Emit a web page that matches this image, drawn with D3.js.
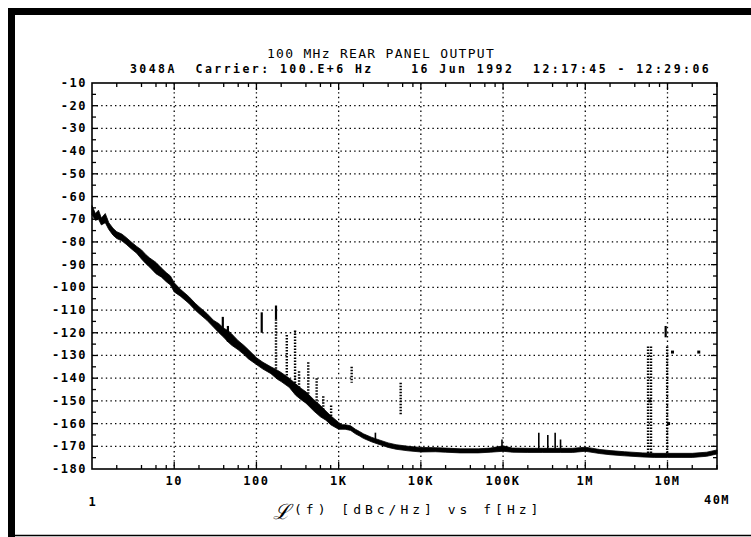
<!DOCTYPE html>
<html>
<head>
<meta charset="utf-8">
<script src="https://cdn.jsdelivr.net/npm/d3@7/dist/d3.min.js"></script>
<style>
  html, body { margin: 0; padding: 0; background: #fff; }
  svg text { font-family: "DejaVu Sans Mono", monospace; fill: #000; }
</style>
</head>
<body>
<svg id="chart" width="751" height="537"></svg>
<script>
// ---------- DATA ----------
const titleText = "100 MHz REAR PANEL OUTPUT";
const subtitleText = "3048A  Carrier: 100.E+6 Hz    16 Jun 1992  12:17:45 - 12:29:06";
const axisTitleText = "(f) [dBc/Hz] vs f[Hz]";
const yTickValues = [-10,-20,-30,-40,-50,-60,-70,-80,-90,-100,-110,-120,-130,-140,-150,-160,-170,-180];
const xTickValues = [10,100,1e3,1e4,1e5,1e6,1e7];
const xTickLabels = ["10","100","1K","10K","100K","1M","10M"];
const xStartLabel = "1";
const xEndLabel = "40M";

// phase-noise trace: offset frequency, upper and lower edges of the plotted band (dBc/Hz)
const noiseFreq  = [1,1.1,1.2,1.3,1.45,1.6,1.8,2,2.3,2.6,3,3.5,4,4.5,5,6,7,8,9,10,12,15,18,20,25,30,35,40,45,50,60,70,80,100,120,150,180,200,250,300,350,400,500,600,700,800,1000,1100,1200,1400,1600,1800,2000,2500,3000,4000,5000,7000,1e4,1.5e4,2e4,3e4,5e4,7e4,1e5,1.3e5,2e5,3e5,5e5,7e5,1e6,1.5e6,2e6,3e6,5e6,7e6,1e7,1.5e7,2e7,3e7,4e7];
const noiseUpper = [-64,-67.5,-66,-69.5,-67.5,-71.5,-74,-75.5,-76.5,-78,
  -80,-82,-83.5,-85.5,-87,-89,-91.5,-93.5,-95,-98,
  -101,-104,-107,-108.5,-111.5,-114.5,-116,-118,-119,-120.5,
  -123.5,-125.5,-127.5,-131,-133,-135,-136.5,-137.5,-140,-142.5,
  -144.5,-146,-149.5,-152,-154.5,-156.5,-159.5,-160.5,-160.5,-161,
  -162.5,-163.5,-164.5,-166,-167,-168.5,-169.3,-170,-170.5,-170.6,
  -170.8,-171.1,-171.1,-170.8,-169.8,-170.8,-170.9,-170.9,-170.9,-170.9,
  -170.4,-171.4,-171.9,-172.4,-172.9,-173.1,-173.1,-173.1,-173.1,-172.6,-171.6];
const noiseLower = [-68,-70.5,-70,-72.5,-71.5,-74.5,-77,-78.5,-79.5,-81,
  -83,-85,-87.5,-89.5,-91,-94,-95.5,-97.5,-99,-102,
  -104,-107,-110,-111.5,-114.5,-117.5,-120,-122,-124,-125.5,
  -127.5,-129.5,-131.5,-134,-136,-138,-140.5,-141.5,-144,-147.5,
  -149.5,-151,-154.5,-157,-158.5,-160.5,-162.5,-162.5,-162.5,-163,
  -164.5,-165.5,-166.5,-168,-169,-170.5,-171.3,-172,-172.5,-172.4,
  -172.6,-172.9,-172.9,-172.6,-172.2,-172.6,-172.7,-172.7,-172.7,-172.7,
  -172.2,-173.2,-173.7,-174.2,-174.7,-174.9,-174.9,-174.9,-174.9,-174.4,-173.4];

// strong discrete spurs (solid): frequency, top, bottom
const spurSolidFreq   = [39,45,116,173,9.5e6];
const spurSolidTop    = [-113,-117,-111,-108,-117];
const spurSolidBottom = [-121,-124,-120,-114,-122];

// stippled spurs: frequency, top, bottom
const spurDotFreq   = [173,234,295,330,427,540,650,810,1440,5680,5.8e6,6.3e6,9.9e6];
const spurDotTop    = [-114,-121,-119,-137,-133,-140,-148,-152,-135,-142,-126,-126,-126];
const spurDotBottom = [-136,-141,-144,-146,-150,-152,-156,-159,-142,-156,-173,-173,-173];

// small spurs on the noise floor
const spurSmallFreq   = [2800,9.7e4,2.72e5,3.5e5,4.3e5,5e5];
const spurSmallTop    = [-164,-167,-164,-165,-164,-167];
const spurSmallBottom = [-168,-171,-171,-171,-171,-171];

// isolated marks
const markFreq  = [11.5e6,24e6,6.1e6,1.03e7];
const markLevel = [-128.5,-128.5,-150,-160];

// ---------- CHART ----------
const svg = d3.select("#chart");
const x = d3.scaleLog().domain([1,4e7]).range([92,717]);
const y = d3.scaleLinear().domain([-10,-180]).range([83,469]);

// page frame
svg.append("rect").attr("x",8).attr("y",8).attr("width",743).attr("height",7).attr("fill","#000");
svg.append("rect").attr("x",8).attr("y",8).attr("width",7).attr("height",529).attr("fill","#000");
svg.append("line").attr("x1",8).attr("x2",751).attr("y1",535.5).attr("y2",535.5).attr("stroke","#000").attr("stroke-width",1.5);

// grid
const grid = svg.append("g").attr("stroke","#000").attr("stroke-width",1.3).attr("stroke-dasharray","1.4,3.2");
grid.selectAll("line.h").data(yTickValues.filter(v => v < -10 && v > -180)).enter().append("line")
  .attr("x1",x(1)).attr("x2",x(4e7)).attr("y1",d=>y(d)).attr("y2",d=>y(d));
grid.selectAll("line.v").data(xTickValues).enter().append("line")
  .attr("y1",y(-10)).attr("y2",y(-180)).attr("x1",d=>x(d)).attr("x2",d=>x(d));

// minor ticks
const minorX = [];
for (let dec = 1; dec <= 1e7; dec *= 10) {
  [2,4,6,8].forEach(m => { if (m*dec <= 4e7) minorX.push(m*dec); });
}
const ticks = svg.append("g").attr("stroke","#000").attr("stroke-width",1.3);
minorX.forEach(f => {
  ticks.append("line").attr("x1",x(f)).attr("x2",x(f)).attr("y1",y(-180)).attr("y2",y(-180)-4);
  ticks.append("line").attr("x1",x(f)).attr("x2",x(f)).attr("y1",y(-10)).attr("y2",y(-10)+4);
});
xTickValues.forEach(f => {
  ticks.append("line").attr("x1",x(f)).attr("x2",x(f)).attr("y1",y(-180)).attr("y2",y(-180)-7);
  ticks.append("line").attr("x1",x(f)).attr("x2",x(f)).attr("y1",y(-10)).attr("y2",y(-10)+7);
});
for (let v = -15; v >= -175; v -= 5) {
  const len = (v % 10 === 0) ? 6 : 4;
  ticks.append("line").attr("x1",x(1)).attr("x2",x(1)+len).attr("y1",y(v)).attr("y2",y(v));
  ticks.append("line").attr("x1",x(4e7)).attr("x2",x(4e7)-len).attr("y1",y(v)).attr("y2",y(v));
}

// plot border
svg.append("rect").attr("x",x(1)).attr("y",y(-10)).attr("width",x(4e7)-x(1)).attr("height",y(-180)-y(-10))
  .attr("fill","none").attr("stroke","#000").attr("stroke-width",1.6);

// noise band
const band = noiseFreq.map((f,i) => ({f, u: noiseUpper[i], l: noiseLower[i]}));
svg.append("path").datum(band)
  .attr("d", d3.area().x(d=>x(d.f)).y0(d=>y(d.l)).y1(d=>y(d.u)))
  .attr("fill","#000").attr("stroke","#000").attr("stroke-width",0.8).attr("stroke-linejoin","round");

// spurs
const spurs = svg.append("g").attr("stroke","#000");
spurSolidFreq.forEach((f,i) => {
  spurs.append("line").attr("x1",x(f)).attr("x2",x(f)).attr("y1",y(spurSolidTop[i])).attr("y2",y(spurSolidBottom[i]))
    .attr("stroke-width",2.2);
});
spurDotFreq.forEach((f,i) => {
  spurs.append("line").attr("x1",x(f)).attr("x2",x(f)).attr("y1",y(spurDotTop[i])).attr("y2",y(spurDotBottom[i]))
    .attr("stroke-width",2.4).attr("stroke-dasharray","1.5,1.5");
});
spurSmallFreq.forEach((f,i) => {
  spurs.append("line").attr("x1",x(f)).attr("x2",x(f)).attr("y1",y(spurSmallTop[i])).attr("y2",y(spurSmallBottom[i]))
    .attr("stroke-width",1.6);
});
markFreq.forEach((f,i) => {
  spurs.append("rect").attr("x",x(f)-1.5).attr("y",y(markLevel[i])-1.5).attr("width",3).attr("height",3).attr("fill","#000").attr("stroke","none");
});

// y labels
svg.append("g").selectAll("text").data(yTickValues).enter().append("text")
  .attr("x",87).attr("y",d=>y(d)+4).attr("text-anchor","end")
  .attr("font-size",12).attr("font-weight","bold").attr("letter-spacing",1.5)
  .text(d=>d);

// x labels
svg.append("g").selectAll("text").data(xTickValues).enter().append("text")
  .attr("x",d=>x(d)).attr("y",485).attr("text-anchor","middle")
  .attr("font-size",12).attr("font-weight","bold").attr("letter-spacing",1.5)
  .text((d,i)=>xTickLabels[i]);
svg.append("text").attr("x",x(1)).attr("y",506).attr("text-anchor","middle")
  .attr("font-size",12).attr("font-weight","bold").text(xStartLabel);
svg.append("text").attr("x",x(4e7)).attr("y",504).attr("text-anchor","middle")
  .attr("font-size",12).attr("font-weight","bold").attr("letter-spacing",1.5).text(xEndLabel);

// axis title
svg.append("text").attr("x",273).attr("y",519).attr("font-size",21).attr("font-family","DejaVu Serif")
  .attr("font-style","italic").text("\u2112");
svg.append("text").attr("x",294).attr("y",514).attr("font-size",13).attr("letter-spacing",4).style("white-space","pre").text(axisTitleText);

// titles
svg.append("text").attr("x",381).attr("y",58).attr("text-anchor","middle")
  .attr("font-size",13).attr("letter-spacing",1.3).style("white-space","pre").text(titleText);
svg.append("text").attr("x",130).attr("y",73).attr("text-anchor","start")
  .attr("font-size",11.5).attr("font-weight","bold").attr("letter-spacing",2.45)
  .style("white-space","pre").text(subtitleText);
</script>
</body>
</html>
